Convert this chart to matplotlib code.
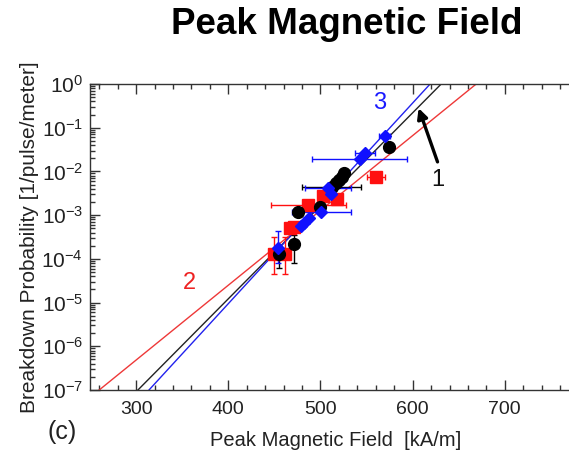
import numpy as np
import matplotlib
matplotlib.use("Agg")
import matplotlib.pyplot as plt
from matplotlib.ticker import FixedLocator, LogLocator, NullFormatter

plt.rcParams['font.family'] = ['Liberation Sans', 'DejaVu Sans']
plt.rcParams['mathtext.fontset'] = 'custom'
plt.rcParams['mathtext.rm'] = 'Liberation Sans'
plt.rcParams['mathtext.it'] = 'Liberation Sans'

# ---- data ----
# Series 1 (black circles)
blk_x = [574, 525, 523.5, 520, 517, 512, 499, 476, 471, 455]
blk_y = [0.037, 9.1e-3, 7.6e-3, 6.4e-3, 5.4e-3, 4.5e-3, 1.56e-3, 1.2e-3, 2.15e-4, 1.3e-4]
blk_xerr = [4, 0, 0, 0, 0, 32, 0, 0, 4, 0]
blk_ylo = [0, 0, 0, 0, 0, 0, 0, 0, 1.36e-4, 6.8e-5]
blk_yhi = [0, 0, 0, 0, 0, 0, 0, 0, 1.35e-4, 0]

# Series 2 (red squares)
red_x = [560, 502.5, 518, 487, 471.7, 467.4, 450, 461.6]
red_y = [7.4e-3, 2.8e-3, 2.3e-3, 1.7e-3, 5.4e-4, 5.0e-4, 1.27e-4, 1.27e-4]
red_xerr = [10, 0, 0, 41, 0, 0, 0, 0]
red_ylo = [0, 0, 0, 0, 0, 0, 8.3e-5, 8.3e-5]
red_yhi = [0, 0, 0, 0, 0, 0, 1.9e-4, 1.9e-4]

# Series 3 (blue diamonds)
blu_x = [569.6, 548.6, 542.4, 508, 511.6, 500.8, 488, 482.6, 479, 454.3]
blu_y = [0.066, 0.026, 0.0189, 4.2e-3, 3.0e-3, 1.2e-3, 8.5e-4, 6.5e-4, 5.5e-4, 1.74e-4]
blu_xerr = [6, 11, 52, 25, 0, 32, 0, 0, 0, 0]
blu_ylo = [0, 0, 0, 0, 0, 0, 0, 0, 0, 9.5e-5]
blu_yhi = [0, 0, 0, 0, 0, 0, 0, 0, 0, 2.5e-4]

# Fit lines: field where probability = 1e-7 and = 1
fit_names = ['1', '2', '3']
fit_x_low = [302, 260, 314]
fit_x_high = [631, 669, 619]
fit_p = [1e-7, 1.0]

x_ticks = [300, 400, 500, 600, 700]
y_ticks = [1e-7, 1e-6, 1e-5, 1e-4, 1e-3, 1e-2, 1e-1, 1e0]
y_ticklabels = [r'$10^{-7}$', r'$10^{-6}$', r'$10^{-5}$', r'$10^{-4}$',
                r'$10^{-3}$', r'$10^{-2}$', r'$10^{-1}$', r'$10^{0}$']

fig = plt.figure(figsize=(5.69, 4.51), dpi=100)
ax = fig.add_axes([0.1582, 0.1353, 0.8418 * 1.0007, 0.6785])
ax.set_yscale('log')
ax.set_xlim(250, 770)
ax.set_ylim(1e-7, 1e0)

line_cols = {'1': '#222222', '2': '#ee3838', '3': '#2222ee'}
for name, xl, xh in zip(fit_names, fit_x_low, fit_x_high):
    ax.plot([xl, xh], fit_p, color=line_cols[name], lw=1.0, zorder=2)

def eb(x, y, xe, ylo, yhi, col, mk, ms):
    ax.errorbar(x, y, xerr=xe, yerr=[ylo, yhi], fmt=mk, color=col, ms=ms,
                mec=col, mfc=col, ecolor=col, elinewidth=1.0, capsize=2.5,
                capthick=1.0, zorder=3)

eb(red_x, red_y, red_xerr, red_ylo, red_yhi, '#ff1010', 's', 8.5)
eb(blk_x, blk_y, blk_xerr, blk_ylo, blk_yhi, '#000000', 'o', 8.5)
eb(blu_x, blu_y, blu_xerr, blu_ylo, blu_yhi, '#1010ff', 'D', 6)

ax.xaxis.set_major_locator(FixedLocator(x_ticks))
ax.xaxis.set_minor_locator(FixedLocator(np.arange(260, 780, 20)))
ax.set_yticks(y_ticks)
ax.set_yticklabels(y_ticklabels)
ax.yaxis.set_minor_locator(LogLocator(base=10, subs=np.arange(2, 10), numticks=20))
ax.yaxis.set_minor_formatter(NullFormatter())

ax.tick_params(which='both', direction='in', top=True, right=False,
               color='#333333', width=1.0, labelcolor='#222222')
ax.tick_params(axis='x', labelsize=14, pad=8)
ax.tick_params(axis='y', labelsize=15, pad=5)
ax.tick_params(which='major', length=7)
ax.tick_params(which='minor', length=3.5)
for s in ['left', 'bottom', 'top']:
    ax.spines[s].set_color('#333333')
    ax.spines[s].set_linewidth(1.0)
ax.spines['right'].set_visible(False)

ax.set_xlabel('Peak Magnetic Field  [kA/m]', fontsize=14.5, color='#222222', labelpad=8)
ax.xaxis.set_label_coords(0.513, -0.135)
ax.set_ylabel('Breakdown Probability [1/pulse/meter]', fontsize=15, color='#222222', labelpad=2)

ax.text(564, 0.37, '3', color='#1a1aff', fontsize=17, ha='center', va='center')
ax.text(357.6, 2.8e-5, '2', color='#ee2222', fontsize=17, ha='center', va='center')
ax.text(627, 6.3e-3, '1', color='#111111', fontsize=17, ha='center', va='center')
ax.annotate('', xy=(606.5, 0.28), xytext=(627, 0.0165),
            arrowprops=dict(arrowstyle='-|>', color='black', lw=2.4,
                            mutation_scale=15, shrinkA=0, shrinkB=0))

fig.text(0.61, 0.945, 'Peak Magnetic Field', fontsize=26.5, fontweight='bold',
         ha='center', va='center')
fig.text(0.11, 0.042, '(c)', fontsize=18, ha='center', va='center', color='#222222')

fig.savefig('out.png', dpi=100)
